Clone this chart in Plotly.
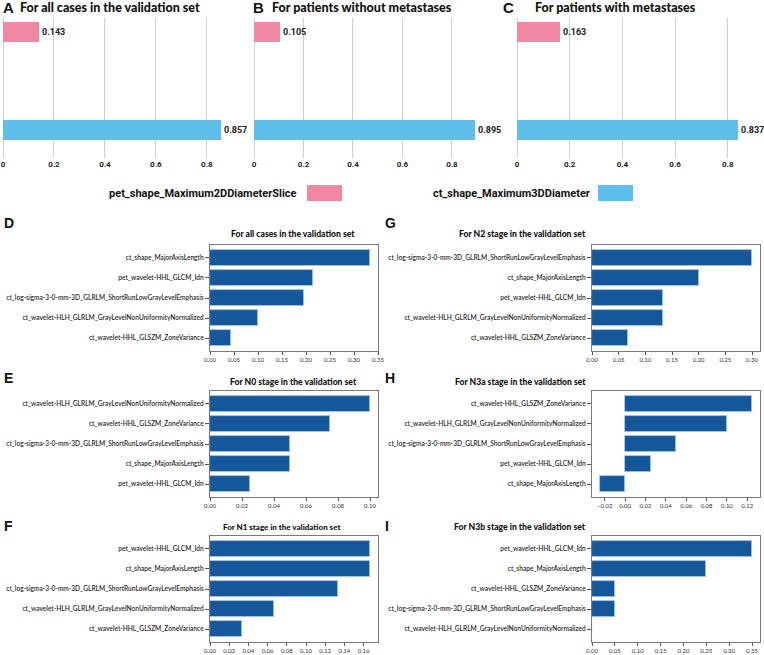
import plotly.graph_objects as go

W, H = 764, 655

# ---------------- top panels (A, B, C) ----------------
top_features = ["ct_shape_Maximum3DDiameter", "pet_shape_Maximum2DDiameterSlice"]
top_colors = ["#5FBFEB", "#F088A2"]
A_values = [0.857, 0.143]
B_values = [0.895, 0.105]
C_values = [0.837, 0.163]
top_letters = ["A", "B", "C"]
top_titles = ["For all cases in the validation set",
              "For patients without metastases",
              "For patients with metastases"]

# ---------------- bottom panels (D - I) ----------------
D_features = ["ct_shape_MajorAxisLength", "pet_wavelet-HHL_GLCM_Idn",
              "ct_log-sigma-3-0-mm-3D_GLRLM_ShortRunLowGrayLevelEmphasis",
              "ct_wavelet-HLH_GLRLM_GrayLevelNonUniformityNormalized",
              "ct_wavelet-HHL_GLSZM_ZoneVariance"]
D_values = [0.333, 0.214, 0.195, 0.100, 0.044]

E_features = ["ct_wavelet-HLH_GLRLM_GrayLevelNonUniformityNormalized",
              "ct_wavelet-HHL_GLSZM_ZoneVariance",
              "ct_log-sigma-3-0-mm-3D_GLRLM_ShortRunLowGrayLevelEmphasis",
              "ct_shape_MajorAxisLength", "pet_wavelet-HHL_GLCM_Idn"]
E_values = [0.100, 0.075, 0.050, 0.050, 0.025]

F_features = ["pet_wavelet-HHL_GLCM_Idn", "ct_shape_MajorAxisLength",
              "ct_log-sigma-3-0-mm-3D_GLRLM_ShortRunLowGrayLevelEmphasis",
              "ct_wavelet-HLH_GLRLM_GrayLevelNonUniformityNormalized",
              "ct_wavelet-HHL_GLSZM_ZoneVariance"]
F_values = [0.167, 0.167, 0.133, 0.067, 0.033]

G_features = ["ct_log-sigma-3-0-mm-3D_GLRLM_ShortRunLowGrayLevelEmphasis",
              "ct_shape_MajorAxisLength", "pet_wavelet-HHL_GLCM_Idn",
              "ct_wavelet-HLH_GLRLM_GrayLevelNonUniformityNormalized",
              "ct_wavelet-HHL_GLSZM_ZoneVariance"]
G_values = [0.300, 0.200, 0.133, 0.133, 0.067]

H_features = ["ct_wavelet-HHL_GLSZM_ZoneVariance",
              "ct_wavelet-HLH_GLRLM_GrayLevelNonUniformityNormalized",
              "ct_log-sigma-3-0-mm-3D_GLRLM_ShortRunLowGrayLevelEmphasis",
              "pet_wavelet-HHL_GLCM_Idn", "ct_shape_MajorAxisLength"]
H_values = [0.125, 0.100, 0.050, 0.025, -0.025]

I_features = ["pet_wavelet-HHL_GLCM_Idn", "ct_shape_MajorAxisLength",
              "ct_wavelet-HHL_GLSZM_ZoneVariance",
              "ct_log-sigma-3-0-mm-3D_GLRLM_ShortRunLowGrayLevelEmphasis",
              "ct_wavelet-HLH_GLRLM_GrayLevelNonUniformityNormalized"]
I_values = [0.35, 0.25, 0.05, 0.05, 0.0]

bottom_letters = ["D", "E", "F", "G", "H", "I"]
bottom_titles = ["For all cases in the validation set",
                 "For N0 stage in the validation set",
                 "For N1 stage in the validation set",
                 "For N2 stage in the validation set",
                 "For N3a stage in the validation set",
                 "For N3b stage in the validation set"]


def px(x):
    return x / W


def py(y):
    return 1 - y / H


fig = go.Figure()
layout = {}
annotations = []
shapes = []

TITLE_FONT = "Lato"
BAR_BLUE = "#14579A"

# ---- top panels ----
top_vals = [A_values, B_values, C_values]
top_dom = [(3, 245), (254, 494), (517, 762)]
top_rng = [0.95, 0.97, 0.93]
top_letter_x = [1, 251, 501]
top_title_x = [18, 270, 533]
for i in range(3):
    n = i + 1
    xa = "x" if n == 1 else f"x{n}"
    ya = "y" if n == 1 else f"y{n}"
    fig.add_trace(go.Bar(
        x=top_vals[i], y=top_features, orientation="h",
        marker=dict(color=top_colors, line=dict(width=0)),
        width=0.205,
        texttemplate="<b>%{x:.3f}</b>", textposition="outside",
        textfont=dict(family="Roboto", size=9, color="#222"),
        cliponaxis=False, xaxis=xa, yaxis=ya, showlegend=False))
    layout[f"xaxis{'' if n == 1 else n}"] = dict(
        domain=[px(top_dom[i][0]), px(top_dom[i][1])], anchor=ya,
        range=[0, top_rng[i]], dtick=0.2, tick0=0, automargin=False,
        showgrid=True, gridcolor="#cfcfcf", gridwidth=1,
        zeroline=True, zerolinecolor="#cfcfcf", zerolinewidth=1,
        showline=False, ticks="", tickformat="~g",
        tickfont=dict(family="Roboto", size=8, color="#222", weight=700))
    layout[f"yaxis{'' if n == 1 else n}"] = dict(
        domain=[py(158), py(18)], anchor=xa, type="category", automargin=False,
        range=[-0.292, 1.144], showticklabels=False, showgrid=False,
        zeroline=False, showline=False, ticks="")
    annotations.append(dict(x=px(top_letter_x[i]), y=py(8), xref="paper", yref="paper",
                            text=f"<b>{top_letters[i]}</b>", showarrow=False,
                            xanchor="left", yanchor="middle",
                            font=dict(family="Liberation Sans", size=15, color="#111")))
    annotations.append(dict(x=px(top_title_x[i]), y=py(8), xref="paper", yref="paper",
                            text=top_titles[i], showarrow=False,
                            xanchor="left", yanchor="middle",
                            font=dict(family=TITLE_FONT, size=12.5, color="#111", weight=900)))

# legend (text, then colour box)
leg = [(top_features[1], top_colors[1], 299, 307), (top_features[0], top_colors[0], 592, 598)]
for name, col, tx, bx in leg:
    annotations.append(dict(x=px(tx), y=py(193), xref="paper", yref="paper",
                            text=f"<b>{name}</b>", showarrow=False,
                            xanchor="right", yanchor="middle",
                            font=dict(family="Roboto", size=11, color="#111")))
    shapes.append(dict(type="rect", xref="paper", yref="paper",
                       x0=px(bx), x1=px(bx + 35), y0=py(201), y1=py(185),
                       fillcolor=col, line=dict(width=0)))

# ---- bottom panels ----
b_feats = [D_features, E_features, F_features, G_features, H_features, I_features]
b_vals = [D_values, E_values, F_values, G_values, H_values, I_values]
b_rng = [[0, 0.35], [0, 0.105], [0, 0.175], [0, 0.315], [-0.0325, 0.1325], [0, 0.3675]]
b_dtick = [0.05, 0.02, 0.02, 0.05, 0.02, 0.05]
rows = [(245, 351), (391, 497), (536, 642)]
cols = [(210, 378), (592, 760)]
letter_y = [223, 378, 526]
title_y = [234, 382, 527]

for k in range(6):
    n = k + 4
    c = k // 3
    r = k % 3
    xa, ya = f"x{n}", f"y{n}"
    fig.add_trace(go.Bar(
        x=b_vals[k], y=b_feats[k], orientation="h",
        marker=dict(color=BAR_BLUE, line=dict(color="#a9c9ea", width=0.8)),
        width=0.8, xaxis=xa, yaxis=ya, showlegend=False))
    layout[f"xaxis{n}"] = dict(
        domain=[px(cols[c][0]), px(cols[c][1])], anchor=ya, automargin=False,
        range=b_rng[k], dtick=b_dtick[k], tick0=0, tickformat=".2f",
        showgrid=False, zeroline=False, showline=True, mirror=True,
        linecolor="#7a7a7a", linewidth=1, ticks="outside", ticklen=3,
        tickcolor="#555", tickwidth=0.8,
        tickfont=dict(family="Lato", size=6, color="#333"))
    layout[f"yaxis{n}"] = dict(
        domain=[py(rows[r][1]), py(rows[r][0])], anchor=xa, type="category",
        automargin=False,
        range=[4.64, -0.64], showgrid=False, zeroline=False,
        showline=True, mirror=True, linecolor="#7a7a7a", linewidth=1,
        ticks="outside", ticklen=4, tickcolor="#555", tickwidth=0.8,
        tickfont=dict(family="Lato", size=6.6, color="#2a2a2a", weight=600))
    annotations.append(dict(x=px(2 if c == 0 else 383), y=py(letter_y[r]),
                            xref="paper", yref="paper",
                            text=f"<b>{bottom_letters[k]}</b>", showarrow=False,
                            xanchor="left", yanchor="middle",
                            font=dict(family="Liberation Sans", size=14, color="#111")))
    if c == 0:
        tx, xanc = (293 if r < 2 else 281), "center"
    else:
        tx, xanc = 588, "right"
    annotations.append(dict(x=px(tx), y=py(title_y[r]), xref="paper", yref="paper",
                            text=bottom_titles[k], showarrow=False,
                            xanchor=xanc, yanchor="middle",
                            font=dict(family=TITLE_FONT, size=8.6 if r < 2 or c == 1 else 8,
                                      color="#111", weight=900)))

fig.update_layout(
    width=W, height=H, margin=dict(l=0, r=0, t=0, b=0),
    paper_bgcolor="white", plot_bgcolor="white",
    annotations=annotations, shapes=shapes, bargap=0, **layout)

fig.write_html("out.html", config={"displayModeBar": False},
               post_script="document.body.style.margin='0px';document.body.style.overflow='hidden';")
